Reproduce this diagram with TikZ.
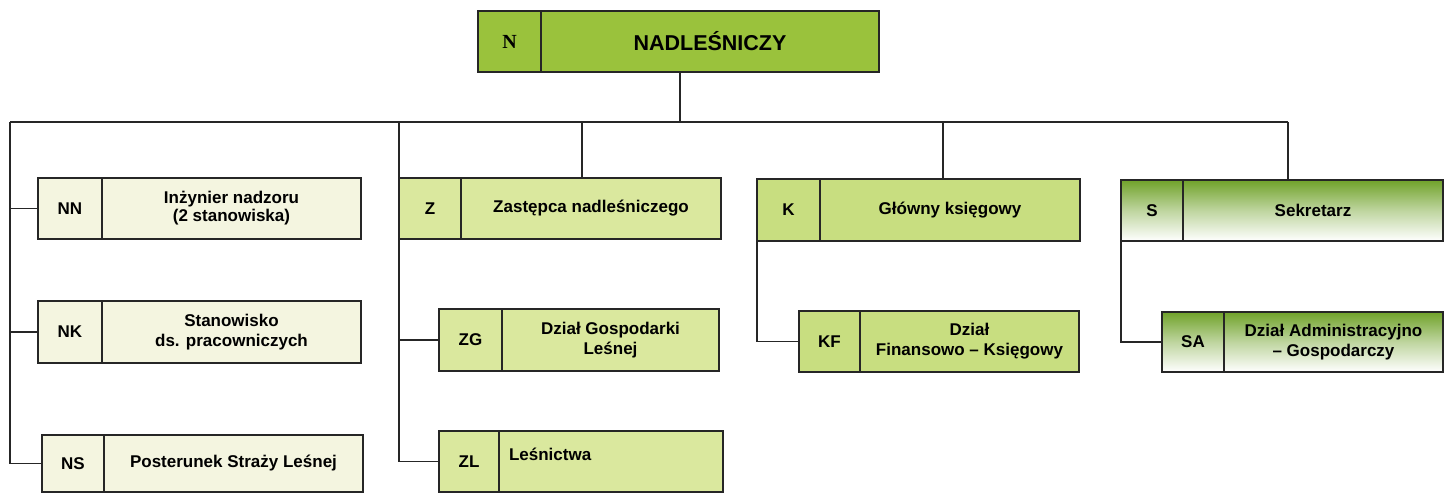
\documentclass[tikz,border=0pt]{standalone}
\usepackage{fontspec}
\setmainfont{Liberation Sans}
\newfontfamily\serifN{Liberation Serif}
\definecolor{topgreen}{RGB}{154,194,60}
\definecolor{palefill}{RGB}{244,245,224}
\definecolor{zfill}{RGB}{218,232,158}
\definecolor{kfill}{RGB}{200,222,128}
\definecolor{sgreen}{RGB}{112,162,42}
\tikzset{
  box/.style={draw=black!85, line width=1.8pt, inner sep=0pt, outer sep=0pt, anchor=north west,
    font=\bfseries\fontsize{17}{20}\selectfont, align=center},
  pale/.style={box, fill=palefill},
  zbox/.style={box, fill=zfill},
  kbox/.style={box, fill=kfill},
  sbox/.style={box, top color=sgreen, bottom color=white, middle color=sgreen!45!white},
  link/.style={draw=black!85, line width=1.3pt},
}
\begin{document}
\begin{tikzpicture}[x=1pt,y=-1pt]
\useasboundingbox (0,0) rectangle (1445,494);
% top
\node[box, fill=topgreen, minimum width=63, minimum height=61, font=\serifN\bfseries\fontsize{20}{22}\selectfont] (n) at (478,11) {N};
\node[box, fill=topgreen, minimum width=338, minimum height=61, font=\bfseries\fontsize{21.5}{24}\selectfont] (nT) at (n.north east) {NADLEŚNICZY};
% column N
\node[pale, minimum width=64, minimum height=61] (nn) at (38,178) {NN};
\node[pale, minimum width=259, minimum height=61] (nnT) at (nn.north east) {Inżynier nadzoru\\[-2pt](2 stanowiska)};
\node[pale, minimum width=64, minimum height=62] (nk) at (38,301) {NK};
\node[pale, minimum width=259, minimum height=62] (nkT) at (nk.north east) {Stanowisko\\ds. pracowniczych};
\node[pale, minimum width=62, minimum height=57] (ns) at (42,435) {NS};
\node[pale, minimum width=259, minimum height=57] (nsT) at (ns.north east) {Posterunek Straży Leśnej};
% column Z
\node[zbox, minimum width=62, minimum height=61] (z) at (399,178) {Z};
\node[zbox, minimum width=260, minimum height=61] (zT) at (z.north east) {Zastępca nadleśniczego};
\node[zbox, minimum width=63, minimum height=62] (zg) at (439,309) {ZG};
\node[zbox, minimum width=217, minimum height=62] (zgT) at (zg.north east) {Dział Gospodarki\\Leśnej};
\node[zbox, minimum width=60, minimum height=61] (zl) at (439,431) {ZL};
\node[zbox, minimum width=224, minimum height=61, text width=204, align=left, text depth=14pt] (zlT) at (zl.north east) {\hspace*{0pt}Leśnictwa};
% column K
\node[kbox, minimum width=63, minimum height=62] (k) at (757,179) {K};
\node[kbox, minimum width=260, minimum height=62] (kT) at (k.north east) {Główny księgowy};
\node[kbox, minimum width=61, minimum height=61] (kf) at (799,311) {KF};
\node[kbox, minimum width=219, minimum height=61] (kfT) at (kf.north east) {Dział\\Finansowo – Księgowy};
% column S
\node[sbox, minimum width=62, minimum height=61] (s) at (1121,180) {S};
\node[sbox, minimum width=260, minimum height=61] (sT) at (s.north east) {Sekretarz};
\node[sbox, minimum width=62, minimum height=60] (sa) at (1162,312) {SA};
\node[sbox, minimum width=219, minimum height=60] (saT) at (sa.north east) {Dział Administracyjno\\– Gospodarczy};
% bus
\coordinate (busL) at (10,122);
\coordinate (busR) at (1288,122);
\coordinate (dN) at (680,122);
\coordinate (dZ) at (582,122);
\coordinate (dK) at (943,122);
\draw[link] (dN |- nT.south) -- (dN);
\draw[link] (busL) -- (busR);
\draw[link] (busR) -- (busR |- sT.north);
\draw[link] (dZ) -- (dZ |- zT.north);
\draw[link] (dK) -- (dK |- kT.north);
\draw[link] (z.north west |- busL) -- (z.north west);
% left column
\draw[link] (busL) |- (ns.west);
\draw[link] (busL |- nn.west) -- (nn.west);
\draw[link] (busL |- nk.west) -- (nk.west);
% Z column
\draw[link] (z.south west) |- (zl.west);
\draw[link] (z.south west |- zg.west) -- (zg.west);
% K, S
\draw[link] (k.south west) |- (kf.west);
\draw[link] (s.south west) |- (sa.west);
\end{tikzpicture}
\end{document}
